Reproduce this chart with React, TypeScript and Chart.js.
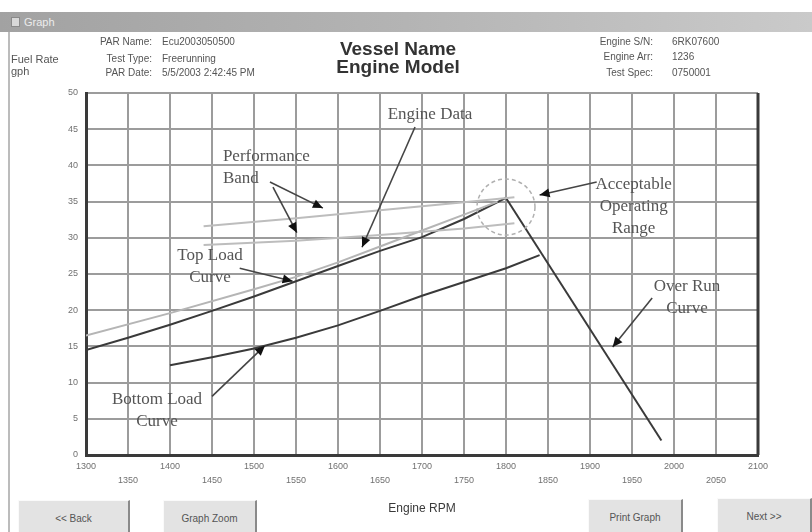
import React, { useEffect, useRef } from 'react';
import { Chart, registerables } from 'chart.js';

Chart.register(...registerables);

// ---- data ----
const topLoadRpm = [1300, 1350, 1400, 1450, 1500, 1550, 1600, 1650, 1700, 1750, 1800];
const topLoadFuel = [14.5, 16.2, 18.0, 19.9, 21.9, 24.0, 26.1, 28.2, 30.1, 32.6, 35.5];

const engineDataRpm = [1300, 1400, 1500, 1550, 1600, 1650, 1700, 1750, 1790];
const engineDataFuel = [16.5, 19.6, 22.9, 24.6, 26.6, 28.8, 31.0, 33.2, 35.0];

const bandUpperRpm = [1440, 1550, 1650, 1750, 1810];
const bandUpperFuel = [31.6, 32.7, 33.8, 34.9, 35.6];

const bandLowerRpm = [1440, 1550, 1650, 1750, 1810];
const bandLowerFuel = [29.0, 29.6, 30.4, 31.3, 32.0];

const bottomLoadRpm = [1400, 1450, 1500, 1550, 1600, 1650, 1700, 1750, 1800, 1840];
const bottomLoadFuel = [12.4, 13.5, 14.7, 16.2, 17.9, 19.9, 22.0, 23.9, 25.8, 27.6];

const overRunRpm = [1800, 1985];
const overRunFuel = [35.5, 2.0];

// annotation texts (anchor in data units)
const noteLines = [
  ['Engine Data'],
  ['Performance', 'Band'],
  ['Top Load', 'Curve'],
  ['Bottom Load', 'Curve'],
  ['Acceptable', 'Operating', 'Range'],
  ['Over Run', 'Curve'],
];
const noteRpm = [1709.5, 1463, 1447.6, 1384.5, 1952, 2015.5];
const noteFuel = [47.0, 41.2, 27.5, 7.6, 37.3, 23.3];
const noteAlign = ['center', 'left', 'center', 'center', 'center', 'center'];

// arrows (data units)
const arrowFromRpm = [1691.7, 1519, 1522.6, 1483, 1450, 1908, 1974];
const arrowFromFuel = [45.3, 37.7, 37.0, 25.8, 8.1, 37.7, 21.7];
const arrowToRpm = [1628.6, 1582, 1551, 1546, 1513, 1840, 1927];
const arrowToFuel = [28.7, 34.1, 30.7, 24.0, 15.1, 35.9, 14.9];

// acceptable operating range circle (data units)
const rangeCenter = { rpm: 1800, fuel: 34.25 };
const rangeRadius = { rpm: 34.5, fuel: 3.87 };

const toXY = (xs: number[], ys: number[]) => xs.map((x, i) => ({ x, y: ys[i] }));

const DARK = '#3a3a3a';
const LIGHT = '#bdbdbd';

const notesPlugin = {
  id: 'notes',
  beforeDatasetsDraw(chart: any) {
    const { ctx, chartArea } = chart;
    ctx.save();
    ctx.strokeStyle = '#3a3a3a';
    ctx.lineWidth = 3;
    ctx.beginPath();
    ctx.moveTo(chartArea.right, chartArea.top);
    ctx.lineTo(chartArea.right, chartArea.bottom);
    ctx.stroke();
    ctx.restore();
  },
  afterDatasetsDraw(chart: any) {
    const { ctx } = chart;
    const xs = chart.scales.x;
    const ys = chart.scales.y;
    ctx.save();
    // dashed circle
    const cx = xs.getPixelForValue(rangeCenter.rpm);
    const cy = ys.getPixelForValue(rangeCenter.fuel);
    const rx = Math.abs(xs.getPixelForValue(rangeCenter.rpm + rangeRadius.rpm) - cx);
    const ry = Math.abs(ys.getPixelForValue(rangeCenter.fuel + rangeRadius.fuel) - cy);
    ctx.strokeStyle = '#b0b0b0';
    ctx.lineWidth = 1.5;
    ctx.setLineDash([4, 3]);
    ctx.beginPath();
    ctx.ellipse(cx, cy, rx, ry, 0, 0, Math.PI * 2);
    ctx.stroke();
    ctx.setLineDash([]);

    // arrows
    for (let i = 0; i < arrowFromRpm.length; i++) {
      const x1 = xs.getPixelForValue(arrowFromRpm[i]);
      const y1 = ys.getPixelForValue(arrowFromFuel[i]);
      const x2 = xs.getPixelForValue(arrowToRpm[i]);
      const y2 = ys.getPixelForValue(arrowToFuel[i]);
      ctx.strokeStyle = '#454545';
      ctx.lineWidth = 1.6;
      ctx.beginPath();
      ctx.moveTo(x1, y1);
      ctx.lineTo(x2, y2);
      ctx.stroke();
      const ang = Math.atan2(y2 - y1, x2 - x1);
      const len = 10;
      const hw = 4.5;
      ctx.fillStyle = '#111';
      ctx.beginPath();
      ctx.moveTo(x2, y2);
      ctx.lineTo(x2 - len * Math.cos(ang) + hw * Math.sin(ang), y2 - len * Math.sin(ang) - hw * Math.cos(ang));
      ctx.lineTo(x2 - len * Math.cos(ang) - hw * Math.sin(ang), y2 - len * Math.sin(ang) + hw * Math.cos(ang));
      ctx.closePath();
      ctx.fill();
    }

    // texts
    ctx.font = '17px "Liberation Serif", "Times New Roman", serif';
    ctx.fillStyle = '#555';
    ctx.textBaseline = 'middle';
    for (let i = 0; i < noteLines.length; i++) {
      const x = xs.getPixelForValue(noteRpm[i]);
      const y = ys.getPixelForValue(noteFuel[i]);
      ctx.textAlign = noteAlign[i] as CanvasTextAlign;
      noteLines[i].forEach((t, j) => {
        ctx.fillText(t, x, y + j * 22);
      });
    }
    ctx.restore();
  },
};

const labelStyle: React.CSSProperties = {
  position: 'absolute',
  fontFamily: '"Liberation Sans", Arial, sans-serif',
  fontSize: 10,
  color: '#555',
  whiteSpace: 'nowrap',
  lineHeight: '12px',
};

const buttonStyle = (left: number, top: number, width: number): React.CSSProperties => ({
  position: 'absolute',
  left,
  top,
  width,
  height: 40,
  boxSizing: 'border-box',
  background: '#e3e3e3',
  borderTop: '1px solid #fafafa',
  borderLeft: '1px solid #fafafa',
  borderRight: '2px solid #8a8a8a',
  borderBottom: '2px solid #8a8a8a',
  fontFamily: '"Liberation Sans", Arial, sans-serif',
  fontSize: 10,
  color: '#555',
  display: 'flex',
  alignItems: 'flex-start',
  justifyContent: 'center',
  paddingTop: 12,
});

export default function App() {
  const canvasRef = useRef<HTMLCanvasElement>(null);

  useEffect(() => {
    const canvas = canvasRef.current;
    if (!canvas) return;
    const chart = new Chart(canvas, {
      type: 'scatter',
      data: {
        datasets: [
          { label: 'Performance Band Upper', data: toXY(bandUpperRpm, bandUpperFuel), borderColor: LIGHT, borderWidth: 2, showLine: true, pointRadius: 0 },
          { label: 'Performance Band Lower', data: toXY(bandLowerRpm, bandLowerFuel), borderColor: LIGHT, borderWidth: 2, showLine: true, pointRadius: 0 },
          { label: 'Engine Data', data: toXY(engineDataRpm, engineDataFuel), borderColor: '#b5b5b5', borderWidth: 2, showLine: true, pointRadius: 0 },
          { label: 'Top Load Curve', data: toXY(topLoadRpm, topLoadFuel), borderColor: DARK, borderWidth: 2, showLine: true, pointRadius: 0 },
          { label: 'Bottom Load Curve', data: toXY(bottomLoadRpm, bottomLoadFuel), borderColor: DARK, borderWidth: 2, showLine: true, pointRadius: 0 },
          { label: 'Over Run Curve', data: toXY(overRunRpm, overRunFuel), borderColor: DARK, borderWidth: 2, showLine: true, pointRadius: 0 },
        ],
      },
      options: {
        animation: false,
        responsive: false,
        events: [],
        layout: { padding: { left: 0, top: 93, right: 54, bottom: 0 } },
        plugins: { legend: { display: false }, tooltip: { enabled: false } },
        scales: {
          x: {
            type: 'linear',
            min: 1300,
            max: 2100,
            afterFit: (s: any) => { s.height = 77; },
            ticks: {
              stepSize: 50,
              padding: 5,
              color: '#707070',
              font: { size: 9, family: '"Liberation Sans", Arial, sans-serif', lineHeight: 1.55 },
              maxRotation: 0,
              autoSkip: false,
              callback: (v: any, i: number) => (i % 2 === 0 ? [String(v), ''] : ['', String(v)]),
            },
            grid: { color: '#9c9c9c', lineWidth: 2, drawTicks: false },
            border: { color: '#3a3a3a', width: 3 },
          },
          y: {
            type: 'linear',
            min: 0,
            max: 50,
            afterFit: (s: any) => { s.width = 86; },
            ticks: {
              stepSize: 5,
              padding: 8,
              color: '#707070',
              font: { size: 9, family: '"Liberation Sans", Arial, sans-serif' },
            },
            grid: { color: '#9c9c9c', lineWidth: 2, drawTicks: false },
            border: { color: '#3a3a3a', width: 3 },
          },
        },
      },
      plugins: [notesPlugin],
    });
    return () => chart.destroy();
  }, []);

  return (
    <div style={{ position: 'fixed', left: 0, top: 0, width: 812, height: 532, background: '#fff', overflow: 'hidden' }}>
      {/* title bar */}
      <div style={{ position: 'absolute', left: 0, top: 12, width: 812, height: 20, background: 'linear-gradient(to right, #a2a2a2, #b4b4b4 50%, #cacaca)' }} />
      <div style={{ position: 'absolute', left: 11, top: 17, width: 9, height: 10, background: '#d8d8d8', border: '1px solid #8a8a8a', boxSizing: 'border-box' }} />
      <div style={{ ...labelStyle, left: 24, top: 16, fontSize: 11, color: '#ececec' }}>Graph</div>
      {/* left window border */}
      <div style={{ position: 'absolute', left: 8, top: 32, width: 2, height: 500, background: '#bcbcbc' }} />

      <canvas ref={canvasRef} width={812} height={532} style={{ position: 'absolute', left: 0, top: 0, width: 812, height: 532 }} />

      {/* header */}
      <div style={{ ...labelStyle, left: 11, top: 53, fontSize: 11 }}>Fuel Rate</div>
      <div style={{ ...labelStyle, left: 11, top: 65, fontSize: 11 }}>gph</div>

      <div style={{ ...labelStyle, left: 60, top: 36, width: 92, textAlign: 'right' }}>PAR Name:</div>
      <div style={{ ...labelStyle, left: 60, top: 53, width: 92, textAlign: 'right' }}>Test Type:</div>
      <div style={{ ...labelStyle, left: 60, top: 67, width: 92, textAlign: 'right' }}>PAR Date:</div>
      <div style={{ ...labelStyle, left: 162, top: 36 }}>Ecu2003050500</div>
      <div style={{ ...labelStyle, left: 162, top: 53 }}>Freerunning</div>
      <div style={{ ...labelStyle, left: 162, top: 67 }}>5/5/2003 2:42:45 PM</div>

      <div style={{ position: 'absolute', left: 298, top: 40, width: 200, textAlign: 'center', fontFamily: '"Liberation Sans", Arial, sans-serif', fontWeight: 'bold', fontSize: 19, lineHeight: '18px', color: '#333' }}>
        Vessel Name<br />Engine Model
      </div>

      <div style={{ ...labelStyle, left: 560, top: 36, width: 93, textAlign: 'right' }}>Engine S/N:</div>
      <div style={{ ...labelStyle, left: 560, top: 51, width: 93, textAlign: 'right' }}>Engine Arr:</div>
      <div style={{ ...labelStyle, left: 560, top: 67, width: 93, textAlign: 'right' }}>Test Spec:</div>
      <div style={{ ...labelStyle, left: 672, top: 36 }}>6RK07600</div>
      <div style={{ ...labelStyle, left: 672, top: 51 }}>1236</div>
      <div style={{ ...labelStyle, left: 672, top: 67 }}>0750001</div>

      {/* x axis title */}
      <div style={{ ...labelStyle, left: 322, top: 501, width: 200, textAlign: 'center', fontSize: 12, lineHeight: '14px', color: '#3a3a3a' }}>Engine RPM</div>

      {/* buttons */}
      <div style={buttonStyle(18, 500, 112)}>&lt;&lt; Back</div>
      <div style={buttonStyle(163, 500, 94)}>Graph Zoom</div>
      <div style={buttonStyle(588, 499, 95)}>Print Graph</div>
      <div style={buttonStyle(717, 498, 95)}>Next &gt;&gt;</div>
    </div>
  );
}
